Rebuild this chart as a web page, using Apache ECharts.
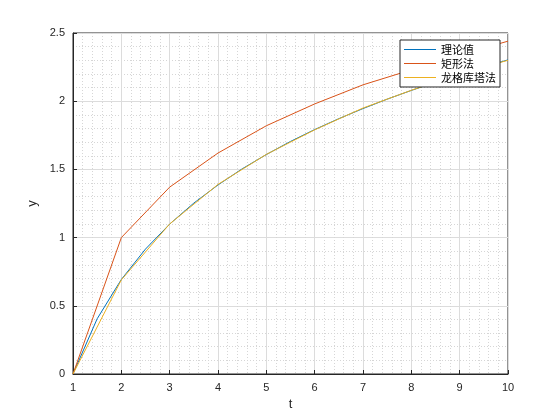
<!DOCTYPE html>
<html><head><meta charset="utf-8">
<script src="https://cdn.jsdelivr.net/npm/echarts@6/dist/echarts.min.js"></script>
<style>html,body{margin:0;background:#fff}#c{width:560px;height:420px}</style>
</head><body><div id="c"></div>
<script>
const tTheory=[1,1.5,2,2.5,3,3.5,4,4.5,5,5.5,6,6.5,7,7.5,8,8.5,9,9.5,10];
const yTheory=[0,0.405,0.693,0.916,1.099,1.253,1.386,1.504,1.609,1.705,1.792,1.872,1.946,2.015,2.079,2.140,2.197,2.251,2.303];
const tStep=[1,2,3,4,5,6,7,8,9,10];
const yRect=[0,1.0,1.37,1.62,1.82,1.98,2.12,2.23,2.34,2.44];
const yRK=[0,0.69,1.10,1.39,1.61,1.79,1.95,2.08,2.20,2.30];
const names=['理论值','矩形法','龙格库塔法'];
const colors=['#0072BD','#D95319','#EDB120'];
const zip=(a,b)=>a.map((v,i)=>[v,b[i]]);
const ax={axisLine:{show:true,onZero:false,lineStyle:{color:'#262626'}},axisTick:{show:true,inside:true,length:4,lineStyle:{color:'#262626'}},
 axisLabel:{color:'#262626',fontSize:11,fontFamily:'Liberation Sans'},
 splitLine:{show:true,lineStyle:{color:'#dcdcdc'}},
 minorTick:{show:false,splitNumber:5},
 minorSplitLine:{show:true,lineStyle:{color:'#d6d6d6',type:[1,2]}}};
const chart=echarts.init(document.getElementById('c'));
chart.setOption({
 animation:false,
 grid:{left:73,right:52,top:33,bottom:46,show:true,borderColor:'#262626',borderWidth:1},
 legend:{data:names,orient:'vertical',right:60,top:40,backgroundColor:'#fff',borderColor:'#262626',borderWidth:1,
  padding:[4,4],itemGap:3,itemWidth:32,itemHeight:1,icon:'rect',textStyle:{fontSize:11,color:'#000',fontFamily:'Noto Sans CJK SC'}},
 xAxis:Object.assign({type:'value',min:1,max:10,interval:1,name:'t',nameLocation:'middle',nameGap:22,nameTextStyle:{fontSize:13,color:'#262626'}},ax),
 yAxis:Object.assign({type:'value',min:0,max:2.5,interval:0.5,name:'y',nameLocation:'middle',nameGap:32,nameTextStyle:{fontSize:13,color:'#262626'}},ax),
 series:[
  {name:names[0],type:'line',data:zip(tTheory,yTheory),showSymbol:false,lineStyle:{width:1,color:colors[0]},itemStyle:{color:colors[0]}},
  {name:names[1],type:'line',data:zip(tStep,yRect),showSymbol:false,lineStyle:{width:1,color:colors[1]},itemStyle:{color:colors[1]}},
  {name:names[2],type:'line',data:zip(tStep,yRK),showSymbol:false,lineStyle:{width:1,color:colors[2]},itemStyle:{color:colors[2]}}
 ]
});
</script></body></html>
